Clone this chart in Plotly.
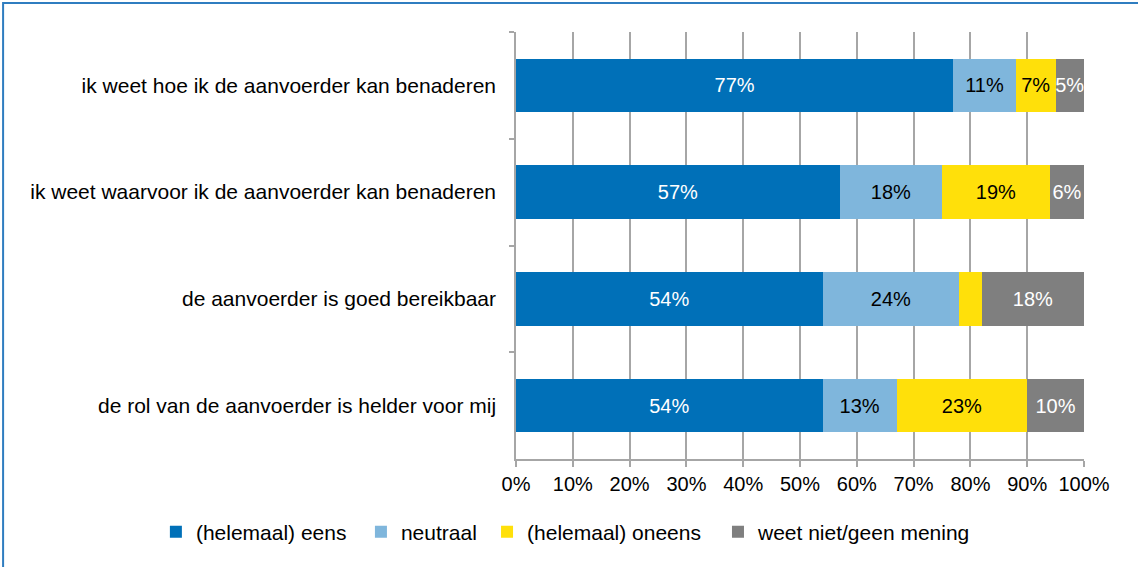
import plotly.graph_objects as go

categories = [
    "ik weet hoe ik de aanvoerder kan benaderen",
    "ik weet waarvoor ik de aanvoerder kan benaderen",
    "de aanvoerder is goed bereikbaar",
    "de rol van de aanvoerder is helder voor mij",
]
series_names = ["(helemaal) eens", "neutraal", "(helemaal) oneens", "weet niet/geen mening"]
eens = [77, 57, 54, 54]
neutraal = [11, 18, 24, 13]
oneens = [7, 19, 4, 23]
weet_niet = [5, 6, 18, 10]
x_ticks = list(range(0, 101, 10))
x_tick_labels = [f"{t}%" for t in x_ticks]

colors = ["#0070B8", "#7FB6DC", "#FFE00A", "#7F7F7F"]
text_colors = ["white", "black", "black", "white"]
legend_ids = ["legend", "legend2", "legend3", "legend4"]
legend_x = [-0.634, -0.273, -0.051, 0.3556]
FONT = "Liberation Sans, Arial, sans-serif"

fig = go.Figure()
for name, vals, c, tc, lid in zip(series_names, [eens, neutraal, oneens, weet_niet],
                                 colors, text_colors, legend_ids):
    fig.add_trace(go.Bar(
        y=categories, x=vals, name=name, orientation="h",
        marker=dict(color=c, line=dict(width=0)),
        text=[f"{v}%" if v >= 5 else "" for v in vals],
        textposition="inside", insidetextanchor="middle", textangle=0,
        constraintext="none",
        textfont=dict(color=tc, size=20, family=FONT),
        cliponaxis=False, legend=lid,
        hoverinfo="skip",
    ))

legend_common = dict(orientation="h", xanchor="left", y=-0.171, yanchor="middle",
                     font=dict(size=21, family=FONT), bgcolor="rgba(0,0,0,0)")
layout_legends = {lid: dict(x=lx, **legend_common) for lid, lx in zip(legend_ids, legend_x)}

fig.update_layout(
    barmode="stack",
    bargap=0.5,
    width=1138, height=567,
    margin=dict(l=516, r=54, t=32, b=108, autoexpand=False),
    paper_bgcolor="white", plot_bgcolor="white",
    font=dict(family=FONT, size=20, color="black"),
    showlegend=True,
    **layout_legends,
)
fig.update_xaxes(
    range=[0, 100], tickvals=x_ticks, ticktext=x_tick_labels,
    showgrid=True, gridcolor="#A6A6A6", gridwidth=1.5,
    showline=True, linecolor="#A6A6A6", linewidth=1.5,
    ticks="outside", ticklen=6, tickcolor="#A6A6A6", tickwidth=1.5,
    zeroline=False, tickfont=dict(size=20), automargin=False,
)
fig.update_yaxes(
    autorange="reversed", type="category", tickson="boundaries",
    showgrid=False, showline=True, linecolor="#A6A6A6", linewidth=1.5,
    ticks="outside", ticklen=5, tickcolor="#A6A6A6", tickwidth=1.5,
    ticklabelstandoff=14, tickfont=dict(size=21), automargin=False,
)
fig.add_shape(type="rect", xref="paper", yref="paper",
              x0=-0.903, x1=1.3, y0=-0.6, y1=1.068,
              line=dict(color="#2F7DC0", width=2), fillcolor="rgba(0,0,0,0)", layer="below")

fig.write_html("out.html", config={"displayModeBar": False},
               post_script="document.body.style.margin='0px';")
